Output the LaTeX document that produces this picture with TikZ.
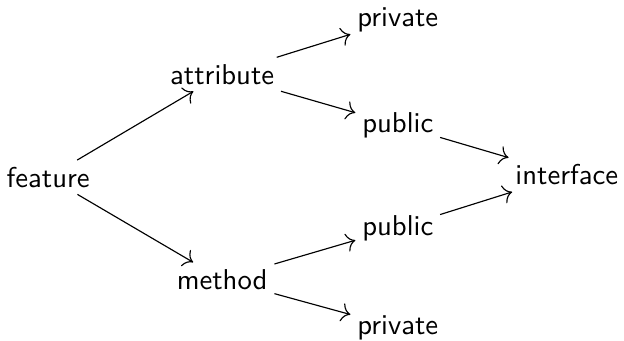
\documentclass[tikz,border=0pt]{standalone}
\usepackage{tikz}
\usetikzlibrary{positioning,arrows.meta}

\begin{document}
\begin{tikzpicture}[
    term/.style={font=\sffamily, inner sep=2.2pt},
    link/.style={-{To[scale=1.25]}, thin},
]
    \useasboundingbox (0,0) rectangle (7.64,4.17);
    % Nodes
    \node[term] (feature) at (0.59, 2.0) {feature};
    \node[term] (attr) at (2.72, 3.26) {attribute};
    \node[term] (meth) at (2.72, 0.75) {method};
    \node[term] (privA) at (4.87, 3.93) {private};
    \node[term] (pubA) at (4.87, 2.64) {public};
    \node[term] (pubM) at (4.87, 1.38) {public};
    \node[term] (privM) at (4.87, 0.16) {private};
    \node[term] (iface) at (6.94, 2.03) {interface};

    % Arrows
    \draw[link] (feature) -- (attr);
    \draw[link] (feature) -- (meth);
    \draw[link] (attr) -- (privA);
    \draw[link] (attr) -- (pubA);
    \draw[link] (meth) -- (pubM);
    \draw[link] (meth) -- (privM);
    \draw[link] (pubA) -- (iface);
    \draw[link] (pubM) -- (iface);
\end{tikzpicture}
\end{document}
